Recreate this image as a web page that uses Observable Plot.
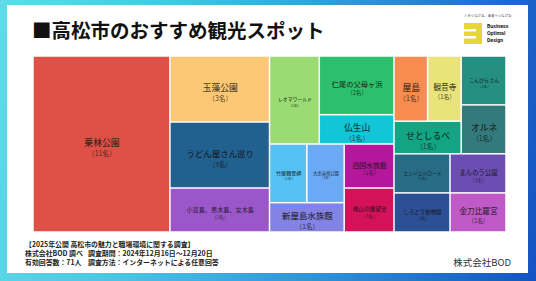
<!DOCTYPE html>
<html><head><meta charset="utf-8">
<script src="https://cdn.jsdelivr.net/npm/d3@7"></script>
<script src="https://cdn.jsdelivr.net/npm/@observablehq/plot@0.6"></script>
<style>
html,body{margin:0;padding:0;width:536px;height:281px;overflow:hidden;}
body{background:linear-gradient(100deg,#5fdce7 0%,#47c4e4 30%,#2b8fd7 65%,#1552c2 100%);font-family:"Noto Sans CJK JP","Noto Sans",sans-serif;position:relative;}
#panel{position:absolute;left:7px;top:5px;width:521px;height:268px;background:#fff;}
#title{position:absolute;left:32px;top:17px;font-size:19.5px;font-weight:700;color:#111;line-height:26px;white-space:nowrap;}
#chart{position:absolute;left:0;top:0;}
#foot{position:absolute;left:25px;top:240px;font-size:6.9px;font-weight:700;color:#222;line-height:9px;white-space:nowrap;}
#foot span.c1{display:inline-block;width:63px;}
#brand{position:absolute;right:25px;top:256px;font-size:9.5px;color:#333;line-height:12px;}
#logo{position:absolute;left:460px;top:12px;}
</style></head>
<body>
<div id="panel"></div>
<div id="title">■高松市のおすすめ観光スポット</div>
<svg id="logo" width="60" height="36">
  <text x="4" y="5" font-size="3.4" fill="#444" font-family="Noto Sans CJK JP">人をつなげる、未来へつなげる</text>
  <rect x="4" y="11" width="18" height="21" fill="#e6d63a"/>
  <rect x="4" y="17" width="12" height="2.5" fill="#fff"/>
  <rect x="4" y="24" width="12" height="2.5" fill="#fff"/>
  <text x="27" y="16" font-size="5.2" font-weight="700" fill="#222" font-family="Roboto">Business</text>
  <text x="27" y="23" font-size="5.2" font-weight="700" fill="#222" font-family="Roboto">Optimal</text>
  <text x="27" y="30" font-size="5.2" font-weight="700" fill="#222" font-family="Roboto">Design</text>
</svg>
<div id="chart"></div>
<div id="foot">
  <div>【2025年公開 高松市の魅力と職場環境に関する調査】</div>
  <div><span class="c1">株式会社BOD 調べ</span>調査期間：2024年12月16日〜12月20日</div>
  <div><span class="c1">有効回答数：71人</span>調査方法：インターネットによる任意回答</div>
</div>
<div id="brand">株式会社BOD</div>
<script>
const spots = ["栗林公園","玉藻公園","うどん屋さん巡り","小豆島、男木島、女木島","レオマワールド","仁尾の父母ヶ浜","仏生山","竹居観音岬","大串自然公園","新屋島水族館","四国水族館","峰山の展望台","屋島","観音寺","せとしるべ","こんぴらさん","オルネ","エンジェルロード","しろとり動物園","まんのう公園","金刀比羅宮"];
const votes = [11,3,3,2,2,2,1,1,1,1,1,1,1,1,1,1,1,1,1,1,1];
const palette = ["#df5146","#fdc875","#21608f","#9b56c9","#9bdb73","#2dbf6b","#12c5d7","#55c1f4","#6ca9f4","#8383e4","#b4179b","#d4125b","#f68c4f","#e8e47b","#13a583","#258f83","#327a7b","#286b85","#2d5095","#6c4eb3","#c05ac9"];

const W = 473, H = 176;
const root = d3.hierarchy({children: spots.map((s,i)=>({name:s, value:votes[i]}))})
  .sum(d => d.value || 0);
d3.treemap().tile(d3.treemapBinary).size([W,H])(root);
const cells = root.leaves().map(l => {
  const w = l.x1 - l.x0;
  const fs = Math.min(8.8, w*0.68/l.data.name.length);
  const cy = (l.y0 + l.y1)/2;
  return {name:l.data.name, value:l.data.value, x0:l.x0, x1:l.x1, y0:l.y0, y1:l.y1,
    cx:(l.x0+l.x1)/2, ny: cy - 0.15*fs, vy: cy + 1.05*fs, fs, vfs: fs*0.78,
    vlabel: "（" + l.data.value + "名）"};
});

const chart = Plot.plot({
  width: 536, height: 281,
  marginLeft: 33, marginRight: 30, marginTop: 56, marginBottom: 49,
  style: {background: "transparent", fontFamily: "'Noto Sans CJK JP', sans-serif"},
  x: {domain: [0, W], axis: null},
  y: {domain: [0, H], reverse: true, axis: null},
  color: {domain: spots, range: palette},
  marks: [
    Plot.rect(cells, {x1:"x0", x2:"x1", y1:"y0", y2:"y1", fill:"name", inset:0.75}),
    Plot.text(cells, {x:"cx", y:"ny", text:"name", fontSize:"fs", fill:"#111", fillOpacity:0.78, fontWeight:500}),
    Plot.text(cells, {x:"cx", y:"vy", text:"vlabel", fontSize:"vfs", fill:"#111", fillOpacity:0.78})
  ]
});
document.getElementById("chart").appendChild(chart);
</script>
</body></html>
